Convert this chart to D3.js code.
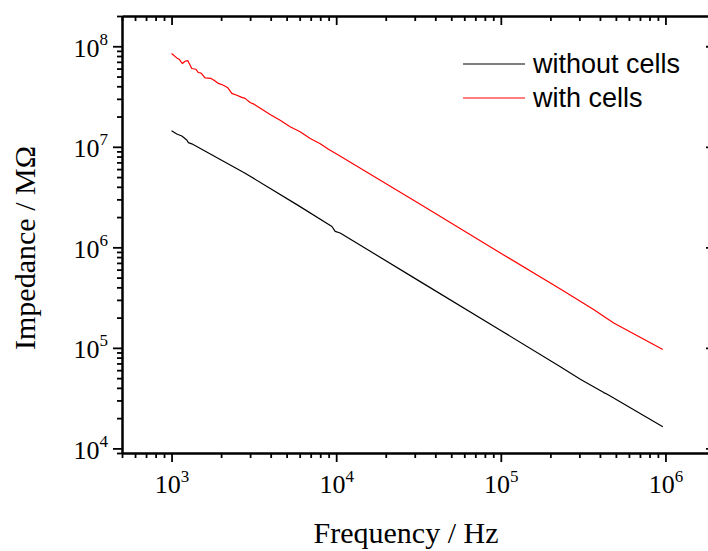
<!DOCTYPE html>
<html>
<head>
<meta charset="utf-8">
<script src="https://cdn.jsdelivr.net/npm/d3@7"></script>
<style>
  html, body { margin: 0; padding: 0; background: #fff; }
  svg { display: block; }
</style>
</head>
<body>
<svg id="chart" width="708" height="551"></svg>
<script>
// Impedance spectra, frequency in Hz, impedance in MΩ
const freqWithout = [1000, 1076, 1154, 1237, 1265, 1327, 2798, 5902, 9420, 9860, 10570,
  32400, 100000, 230000, 304000, 422000, 443000, 964000];
const impWithout = [1.445e7, 1.34e7, 1.28e7, 1.17e7, 1.10e7, 1.07e7, 5.46e6, 2.60e6, 1.61e6, 1.44e6, 1.39e6,
  4.56e5, 1.49e5, 6.49e4, 4.87e4, 3.59e4, 3.45e4, 1.64e4];

const freqWith = [1000, 1076, 1111, 1164, 1208, 1254, 1327, 1403, 1455, 1511, 1598, 1738, 1820, 1926,
  2066, 2197, 2323, 2491, 2671, 2798, 3000, 3186, 3968, 4566, 5250, 6040, 6950, 8000, 8980, 10300,
  32400, 100000, 230000, 366000, 485000, 964000];
const impWith = [8.47e7, 7.66e7, 7.43e7, 6.73e7, 7.10e7, 7.21e7, 6.01e7, 5.91e7, 5.48e7, 5.40e7, 4.85e7,
  4.79e7, 4.57e7, 4.27e7, 4.10e7, 3.86e7, 3.40e7, 3.26e7, 3.10e7, 3.03e7, 2.76e7, 2.64e7, 2.10e7,
  1.84e7, 1.58e7, 1.41e7, 1.21e7, 1.07e7, 9.44e6, 8.29e6, 2.68e6, 8.73e5, 3.86e5, 2.41e5, 1.77e5, 9.64e4];

const seriesNames = ["without cells", "with cells"];
const seriesColors = ["#000000", "#ff0000"];

const xMajor = [1e3, 1e4, 1e5, 1e6];
const xExponents = ["3", "4", "5", "6"];
const yMajor = [1e4, 1e5, 1e6, 1e7, 1e8];
const yExponents = ["4", "5", "6", "7", "8"];

const xTitle = "Frequency / Hz";
const yTitle = "Impedance / MΩ";

// Layout of the plot frame
const frame = { left: 122, right: 715, top: 16, bottom: 453 };
const svg = d3.select("#chart");
svg.append("rect").attr("width", 708).attr("height", 551).attr("fill", "#fff");

const x = d3.scaleLog().domain([500, 2e6]).range([frame.left, frame.right]);
const y = d3.scaleLog().domain([9e3, 2e8]).range([frame.bottom, frame.top]);

// Minor tick positions: 2..9 times each power of ten inside the domain
function minorTicks(scale) {
  const [d0, d1] = scale.domain();
  const out = [];
  for (let p = Math.floor(Math.log10(d0)); p <= Math.ceil(Math.log10(d1)); p++) {
    for (let m = 2; m <= 9; m++) {
      const v = m * Math.pow(10, p);
      if (v >= d0 * 0.999 && v <= d1 * 1.001) out.push(v);
    }
  }
  return out;
}
const xMinor = minorTicks(x);
const yMinor = minorTicks(y);

function styleAxis(g) {
  g.selectAll("path.domain").attr("stroke", "#000").attr("stroke-width", 2);
  g.selectAll(".tick line").attr("stroke", "#000").attr("stroke-width", 1.8);
  g.selectAll(".tick text").remove();
}

// Bottom axis (ticks outward)
svg.append("g").attr("transform", `translate(0,${frame.bottom})`)
  .call(d3.axisBottom(x).tickValues(xMinor).tickSize(5).tickSizeOuter(0).tickFormat(""))
  .call(styleAxis);
const gx = svg.append("g").attr("transform", `translate(0,${frame.bottom})`)
  .call(d3.axisBottom(x).tickValues(xMajor).tickSize(9).tickSizeOuter(0).tickFormat(""))
  .call(styleAxis);

// Top axis (ticks inward)
svg.append("g").attr("transform", `translate(0,${frame.top})`)
  .call(d3.axisBottom(x).tickValues(xMinor).tickSize(5).tickSizeOuter(0).tickFormat(""))
  .call(styleAxis);
svg.append("g").attr("transform", `translate(0,${frame.top})`)
  .call(d3.axisBottom(x).tickValues(xMajor).tickSize(9).tickSizeOuter(0).tickFormat(""))
  .call(styleAxis);

// Left axis (ticks outward)
svg.append("g").attr("transform", `translate(${frame.left},0)`)
  .call(d3.axisLeft(y).tickValues(yMinor).tickSize(5).tickSizeOuter(0).tickFormat(""))
  .call(styleAxis);
const gy = svg.append("g").attr("transform", `translate(${frame.left},0)`)
  .call(d3.axisLeft(y).tickValues(yMajor).tickSize(9).tickSizeOuter(0).tickFormat(""))
  .call(styleAxis);

// Right axis (ticks inward)
svg.append("g").attr("transform", `translate(${frame.right},0)`)
  .call(d3.axisLeft(y).tickValues(yMinor).tickSize(5).tickSizeOuter(0).tickFormat(""))
  .call(styleAxis);
svg.append("g").attr("transform", `translate(${frame.right},0)`)
  .call(d3.axisLeft(y).tickValues(yMajor).tickSize(9).tickSizeOuter(0).tickFormat(""))
  .call(styleAxis);

// Tick labels as powers of ten
const serif = "'Liberation Serif', 'Times New Roman', Times, serif";
gx.selectAll(".tick").each(function(d, i) {
  const t = d3.select(this).append("text")
    .attr("x", 0).attr("y", 40)
    .attr("text-anchor", "middle")
    .attr("fill", "#000")
    .style("font-family", serif).style("font-size", "26px");
  t.append("tspan").text("10");
  t.append("tspan").attr("dy", -11).style("font-size", "17px").text(xExponents[i]);
});
gy.selectAll(".tick").each(function(d, i) {
  const t = d3.select(this).append("text")
    .attr("x", -14).attr("y", 10)
    .attr("text-anchor", "end")
    .attr("fill", "#000")
    .style("font-family", serif).style("font-size", "26px");
  t.append("tspan").text("10");
  t.append("tspan").attr("dy", -12).style("font-size", "17px").text(yExponents[i]);
});

// Axis titles
svg.append("text")
  .attr("x", 406).attr("y", 543)
  .attr("text-anchor", "middle")
  .style("font-family", serif).style("font-size", "30px")
  .text(xTitle);
svg.append("text")
  .attr("transform", "translate(35,248) rotate(-90)")
  .attr("text-anchor", "middle")
  .style("font-family", serif).style("font-size", "30px")
  .text(yTitle);

// Curves
const line = d3.line().x(d => x(d[0])).y(d => y(d[1]));
const series = [
  d3.zip(freqWithout, impWithout),
  d3.zip(freqWith, impWith)
];
series.forEach((pts, i) => {
  svg.append("path")
    .datum(pts)
    .attr("d", line)
    .attr("fill", "none")
    .attr("stroke", seriesColors[i])
    .attr("stroke-width", 1.2)
    .attr("stroke-linejoin", "round");
});

// Legend
const legend = svg.append("g");
const legendY = [64, 98];
seriesNames.forEach((name, i) => {
  legend.append("line")
    .attr("x1", 463).attr("x2", 525)
    .attr("y1", legendY[i]).attr("y2", legendY[i])
    .attr("stroke", seriesColors[i]).attr("stroke-width", 1.2);
  legend.append("text")
    .attr("x", 533).attr("y", legendY[i] + 9)
    .style("font-family", "'Liberation Sans', Arial, sans-serif")
    .style("font-size", "27px")
    .attr("fill", "#000")
    .text(name);
});
</script>
</body>
</html>
